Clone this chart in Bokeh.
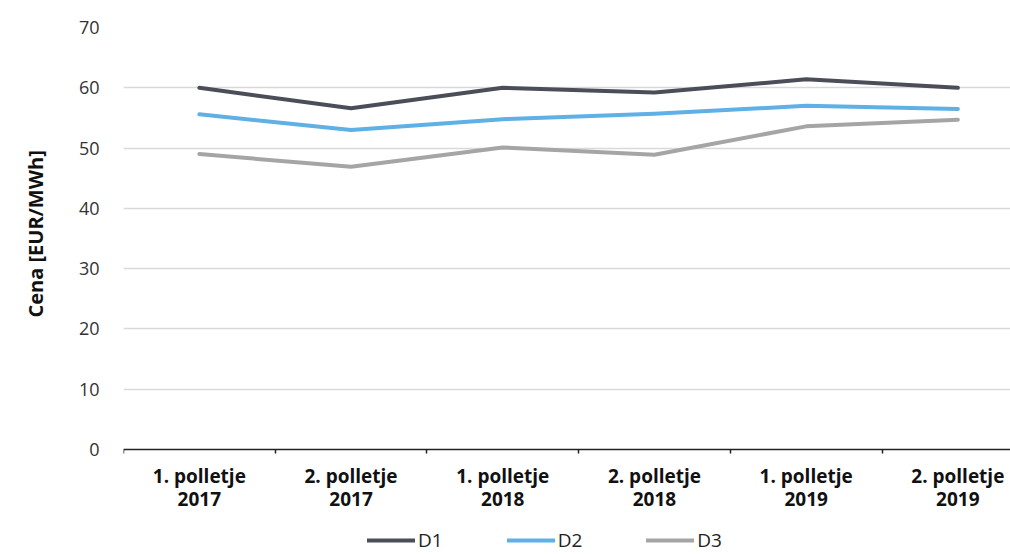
from bokeh.plotting import figure
from bokeh.models import Range1d, FixedTicker, Legend, LegendItem
from bokeh.embed import file_html
from bokeh.resources import INLINE

categories = ["1. polletje\n2017", "2. polletje\n2017", "1. polletje\n2018",
              "2. polletje\n2018", "1. polletje\n2019", "2. polletje\n2019"]
d1 = [60.0, 56.6, 60.0, 59.2, 61.4, 60.0]
d2 = [55.6, 53.0, 54.8, 55.7, 57.0, 56.5]
d3 = [49.0, 46.9, 50.1, 48.9, 53.6, 54.7]
series_names = ["D1", "D2", "D3"]
colors = ["#4b4d59", "#5eb0e5", "#a5a5a5"]
y_ticks = [0, 10, 20, 30, 40, 50, 60, 70]

FONT = "Open Sans"
W, H = 1010, 554
left, top = 123, 27
plot_px = 422            # pixel height of the 0..70 band
FW, FH = W - left, H - top
cat_px = 151.7
xs = [i + 0.5 for i in range(len(categories))]
y_end = y_ticks[-1]
y_start = -(FH - plot_px) * y_end / plot_px   # room below 0 for axis labels + legend

p = figure(width=W, height=H, output_backend="svg", toolbar_location=None,
           x_range=Range1d(0, FW / cat_px), y_range=Range1d(y_start, y_end),
           min_border_left=left, min_border_right=0, min_border_top=top,
           min_border_bottom=0)
p.outline_line_color = None
p.background_fill_color = "white"
p.border_fill_color = "white"

renderers = []
for name, vals, c in zip(series_names, [d1, d2, d3], colors):
    r = p.line(xs, vals, line_color=c, line_width=4, line_cap="round", line_join="round")
    renderers.append((name, r))

# x axis, drawn at y = 0
xa = p.xaxis[0]
xa.fixed_location = 0
xa.ticker = FixedTicker(ticks=xs, minor_ticks=list(range(len(categories) + 1)))
xa.major_label_overrides = {x: c for x, c in zip(xs, categories)}
xa.major_tick_line_color = None
xa.minor_tick_line_color = "#222222"
xa.minor_tick_line_width = 1.5
xa.minor_tick_out = 4
xa.minor_tick_in = 0
xa.axis_line_color = "#222222"
xa.axis_line_width = 1.5
xa.major_label_text_font = FONT
xa.major_label_text_font_style = "bold"
xa.major_label_text_font_size = "19px"
xa.major_label_text_color = "#111111"
xa.major_label_standoff = 7
xa.major_label_text_line_height = 0.9
p.xgrid.grid_line_color = None

# y axis
ya = p.yaxis[0]
ya.ticker = FixedTicker(ticks=y_ticks)
ya.axis_line_color = None
ya.major_tick_line_color = None
ya.minor_tick_line_color = None
ya.major_label_text_font = FONT
ya.major_label_text_font_size = "18px"
ya.major_label_text_color = "#333333"
ya.major_label_standoff = 18
# leading no-break spaces keep the visible title centred on the 0..70 band
ya.axis_label = "\u00a0" * 22 + "Cena [EUR/MWh]"
ya.axis_label_text_font = FONT
ya.axis_label_text_font_style = "bold"
ya.axis_label_text_font_size = "20px"
ya.axis_label_text_color = "#111111"
ya.axis_label_standoff = 27
p.ygrid.grid_line_color = "#d9d9d9"
p.ygrid.grid_line_width = 1.5
p.ygrid.ticker = FixedTicker(ticks=y_ticks[1:])

legend = Legend(items=[LegendItem(label=n, renderers=[r]) for n, r in renderers],
                orientation="horizontal", location=(244, 1),
                glyph_width=48, glyph_height=14, label_standoff=3, spacing=64,
                padding=0, margin=0, border_line_color=None,
                background_fill_alpha=0,
                label_text_font=FONT, label_text_font_size="19px",
                label_text_color="#222222")
p.add_layout(legend, "center")

open("out.html", "w").write(file_html(p, INLINE))
